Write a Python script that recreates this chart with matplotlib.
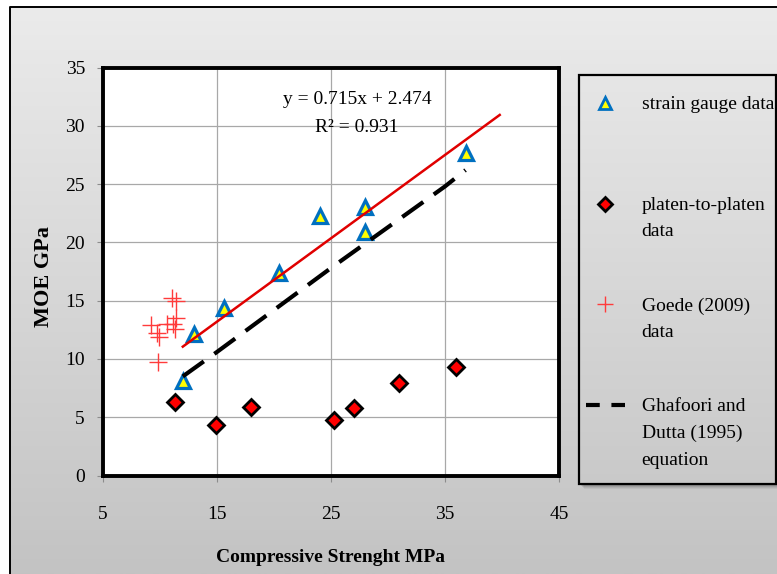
import numpy as np
import matplotlib
matplotlib.use("Agg")
import matplotlib.pyplot as plt
from matplotlib.lines import Line2D
from matplotlib.patches import Rectangle
from matplotlib.colors import LinearSegmentedColormap

plt.rcParams['font.family'] = ['Liberation Serif', 'DejaVu Serif']

# ---- data -------------------------------------------------------------
strain_fc = [12.0, 13.0, 15.6, 20.4, 24.0, 28.0, 28.0, 36.8]
strain_moe = [8.1, 12.1, 14.4, 17.35, 22.3, 23.0, 20.9, 27.7]

platen_fc = [11.3, 14.9, 18.0, 25.3, 27.0, 31.0, 36.0]
platen_moe = [6.3, 4.35, 5.9, 4.75, 5.8, 7.95, 9.3]

goede_fc = [9.2, 9.75, 9.9, 10.6, 11.15, 11.3, 11.4, 11.05, 11.4, 9.8]
goede_moe = [12.9, 12.2, 11.9, 13.0, 13.0, 12.6, 13.5, 15.2, 15.0, 9.7]

ghafoori_fc = [12.0, 15.0, 25.0, 35.0, 36.8]
ghafoori_moe = [8.5, 10.6, 17.8, 24.8, 26.2]

trend_slope = 0.715
trend_intercept = 2.474
trend_r2 = 0.931
trend_fc_range = [12.0, 39.8]

x_ticks = [5, 15, 25, 35, 45]
y_ticks = [0, 5, 10, 15, 20, 25, 30, 35]

legend_labels = ['strain gauge data\n',
                 'platen-to-platen\ndata',
                 'Goede (2009)\ndata',
                 'Ghafoori and\nDutta (1995)\nequation']

# ---- figure -----------------------------------------------------------
W, H = 777, 574
fig = plt.figure(figsize=(W / 100, H / 100), dpi=100, facecolor='white')

# background panel in pixel coordinates
bg = fig.add_axes([0, 0, 1, 1], zorder=-5)
bg.set_xlim(0, W)
bg.set_ylim(H, 0)
bg.axis('off')
cmap = LinearSegmentedColormap.from_list('panel', ['#ebebeb', '#c3c3c3'])
grad = np.linspace(0, 1, 256).reshape(-1, 1)
bg.imshow(grad, extent=(10, W, H, 6.5), cmap=cmap, aspect='auto',
          interpolation='bilinear', zorder=0)
bg.plot([10, 10, W], [H, 6.5, 6.5], color='black', lw=1.4,
        solid_joinstyle='round', zorder=4)

# legend box with soft shadow
lx, ly, lw_, lh = 579, 75, 197, 409
for off, a in [(5, 0.05), (4, 0.07), (3, 0.09), (2, 0.10)]:
    bg.add_patch(Rectangle((lx + off, ly + off), lw_, lh, facecolor='black',
                           alpha=a, lw=0, zorder=1))
box = Rectangle((lx, ly), lw_, lh, transform=bg.transData)
inner = bg.imshow(grad, extent=(10, W, H, 6.5), cmap=cmap, aspect='auto',
                  interpolation='bilinear', zorder=2)
inner.set_clip_path(box)
bg.add_patch(Rectangle((lx, ly), lw_, lh, fill=False, edgecolor='black',
                       lw=1.6, zorder=3))

# plot area
ax = fig.add_axes([103 / W, 1 - 475.5 / H, 456 / W, 408 / H])
ax.set_facecolor('white')
ax.set_xlim(5, 45)
ax.set_ylim(0, 35)
ax.set_xticks(x_ticks)
ax.set_yticks(y_ticks)
ax.grid(True, color='#a8a8a8', lw=0.9)
ax.set_axisbelow(True)
for sp in ax.spines.values():
    sp.set_linewidth(2.8)
    sp.set_color('black')
ax.tick_params(direction='out', length=4.5, width=0.8, color='#8c8c8c',
               labelsize=14)
ax.tick_params(axis='x', pad=17.5)
ax.tick_params(axis='y', pad=8.5)

ax.plot(strain_fc, strain_moe, ls='none', marker='^', ms=10.5,
        mfc='#ffff00', mec='#0070c0', mew=2.3, zorder=3, clip_on=False)
ax.plot(platen_fc, platen_moe, ls='none', marker='D', ms=7.8,
        mfc='#ff0000', mec='black', mew=2.0, zorder=3)
ax.plot(goede_fc, goede_moe, ls='none', marker='+', ms=12.5,
        color='#ff3b3b', mew=1.0, zorder=3)
ax.plot(ghafoori_fc, ghafoori_moe, color='black', lw=3, dashes=(6.2, 3.1),
        dash_capstyle='butt', zorder=4)
tx = np.array(trend_fc_range)
ax.plot(tx, trend_slope * tx + trend_intercept, color='#e00000', lw=1.8,
        zorder=5)

ax.text((357 - 103) / 456, (475.5 - 100) / 408,
        f'y = {trend_slope:.3f}x + {trend_intercept:.3f}',
        transform=ax.transAxes, ha='center', va='center', fontsize=14)
ax.text((357 - 103) / 456, (475.5 - 128) / 408, f'R² = {trend_r2:.3f}',
        transform=ax.transAxes, ha='center', va='center', fontsize=14)

ax.set_xlabel('Compressive Strenght MPa', fontsize=14, fontweight='bold')
ax.xaxis.label.set_va('center')
ax.xaxis.set_label_coords((330 - 103) / 456, (475.5 - 558) / 408)
ax.set_ylabel('MOE GPa', fontsize=16, fontweight='bold')
ax.yaxis.label.set_va('center')
ax.yaxis.set_label_coords((44 - 103) / 456, (475.5 - 277) / 408)

# legend
handles = [
    Line2D([], [], ls='none', marker='^', ms=8, mfc='#ffff00',
           mec='#0070c0', mew=2.0),
    Line2D([], [], ls='none', marker='D', ms=7, mfc='#ff0000',
           mec='black', mew=2.0),
    Line2D([], [], ls='none', marker='+', ms=11, color='#ff3b3b', mew=1.0),
    Line2D([], [], color='black', lw=3, dashes=(3.3, 2.8),
           dash_capstyle='butt'),
]
leg = fig.legend(handles, legend_labels, loc='upper left',
                 bbox_to_anchor=(586 / W, 1 - 96 / H),
                 bbox_transform=fig.transFigure, frameon=False, fontsize=14,
                 borderpad=0, borderaxespad=0, handlelength=2.0,
                 handletextpad=0.86, labelspacing=2.95)
for t in leg.get_texts():
    t.set_linespacing(1.72)
for col in leg._legend_handle_box.get_children():
    for row in col.get_children():
        row.align = 'top'

fig.savefig('out.png', dpi=100, facecolor='white')
